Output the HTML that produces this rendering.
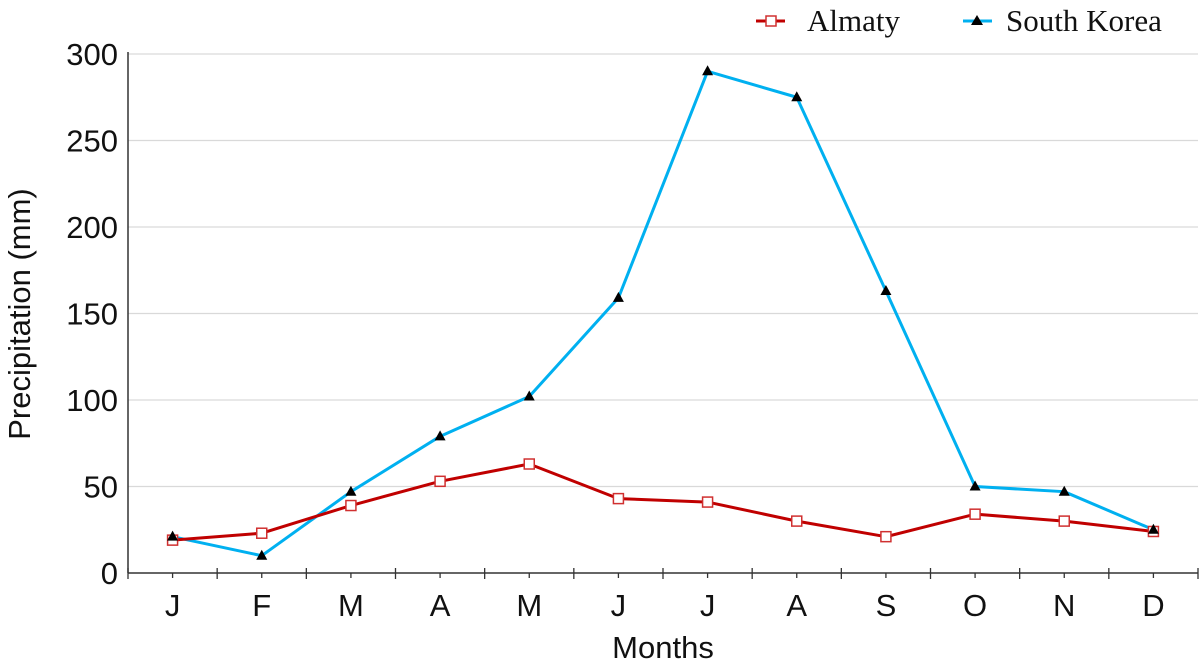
<!DOCTYPE html>
<html><head><meta charset="utf-8"><style>
html,body{margin:0;padding:0;background:#fff;}
svg{display:block;}
</style></head><body>
<svg id="chart" width="1200" height="663" xmlns="http://www.w3.org/2000/svg" font-family="Liberation Sans, Arial, sans-serif">
<g id="grid"></g>
<g id="axes"></g>
<g id="series"></g>
<text transform="translate(30,314) rotate(-90)" text-anchor="middle" font-size="31" fill="#111">Precipitation (mm)</text>
<text x="663" y="658" text-anchor="middle" font-size="31" fill="#111">Months</text>
<g font-family="Liberation Serif, serif" font-size="31" fill="#111">
  <g>
    <line x1="756" y1="21" x2="785" y2="21" stroke="#c00000" stroke-width="3"/>
    <rect x="766" y="16" width="10" height="10" fill="#fff" stroke="#d03030" stroke-width="1.5"/>
    <text x="807" y="31">Almaty</text>
  </g>
  <g>
    <line x1="963" y1="21" x2="992" y2="21" stroke="#00b0f0" stroke-width="3"/>
    <polygon points="977,15 983,25 971,25" fill="#000"/>
    <text x="1006" y="31">South Korea</text>
  </g>
</g>
</svg>
<script>
const months = ["J","F","M","A","M","J","J","A","S","O","N","D"];
const almaty = [19,23,39,53,63,43,41,30,21,34,30,24];
const southKorea = [21,10,47,79,102,159,290,275,163,50,47,25];
const yTicks = [0,50,100,150,200,250,300];

const NS = "http://www.w3.org/2000/svg";
const X0 = 128, X1 = 1198, Y0 = 573, Y1 = 54, YMAX = 300;
const bw = (X1 - X0) / months.length;
function xs(i){ return X0 + bw * (i + 0.5); }
function ys(v){ return Y0 - (v / YMAX) * (Y0 - Y1); }
function mk(tag, attrs, parent){
  const e = document.createElementNS(NS, tag);
  for (const k in attrs) e.setAttribute(k, attrs[k]);
  parent.appendChild(e); return e;
}
const grid = document.getElementById('grid');
const axes = document.getElementById('axes');
const series = document.getElementById('series');

yTicks.forEach(t => {
  if (t > 0) {
    const l = mk('line', {x1:X0, x2:X1, y1:ys(t), y2:ys(t), stroke:'#d9d9d9', 'stroke-width':1.2}, grid);
    
    
  }
  const tx = mk('text', {x:118, y:ys(t)+11, 'text-anchor':'end', 'font-size':31, fill:'#111'}, axes);
  tx.textContent = t;
  
  
});
const ya = mk('line', {x1:X0, x2:X0, y1:Y1-2, y2:Y0, stroke:'#333', 'stroke-width':1.5}, axes);


const xa = mk('line', {x1:X0, x2:X1, y1:Y0, y2:Y0, stroke:'#333', 'stroke-width':1.5}, axes);


for (let i = 0; i <= months.length; i++) {
  const bx = X0 + bw * i;
  const b = mk('line', {x1:bx, x2:bx, y1:Y0-5, y2:Y0+6, stroke:'#333', 'stroke-width':1.3}, axes);
  
  
}
months.forEach((m, i) => {
  const t = mk('line', {x1:xs(i), x2:xs(i), y1:Y0, y2:Y0+5, stroke:'#333', 'stroke-width':1.3}, axes);
  
  
  const tx = mk('text', {x:xs(i), y:616, 'text-anchor':'middle', 'font-size':31, fill:'#111'}, axes);
  tx.textContent = m;
  
  
});

function pts(arr){ return arr.map((v,i) => xs(i) + ',' + ys(v)).join(' '); }
const lk = mk('polyline', {points:pts(southKorea), fill:'none', stroke:'#00b0f0', 'stroke-width':3, 'stroke-linejoin':'round'}, series);


const la = mk('polyline', {points:pts(almaty), fill:'none', stroke:'#c00000', 'stroke-width':3, 'stroke-linejoin':'round'}, series);


almaty.forEach((v, i) => {
  const r = mk('rect', {x:xs(i)-5, y:ys(v)-5, width:10, height:10, fill:'#fff', stroke:'#d03030', 'stroke-width':1.5}, series);
  
  
});
southKorea.forEach((v, i) => {
  const x = xs(i), y = ys(v);
  const p = mk('polygon', {points:`${x},${y-6} ${x+5.5},${y+4} ${x-5.5},${y+4}`, fill:'#000'}, series);
  
  
});
</script>
</body></html>
